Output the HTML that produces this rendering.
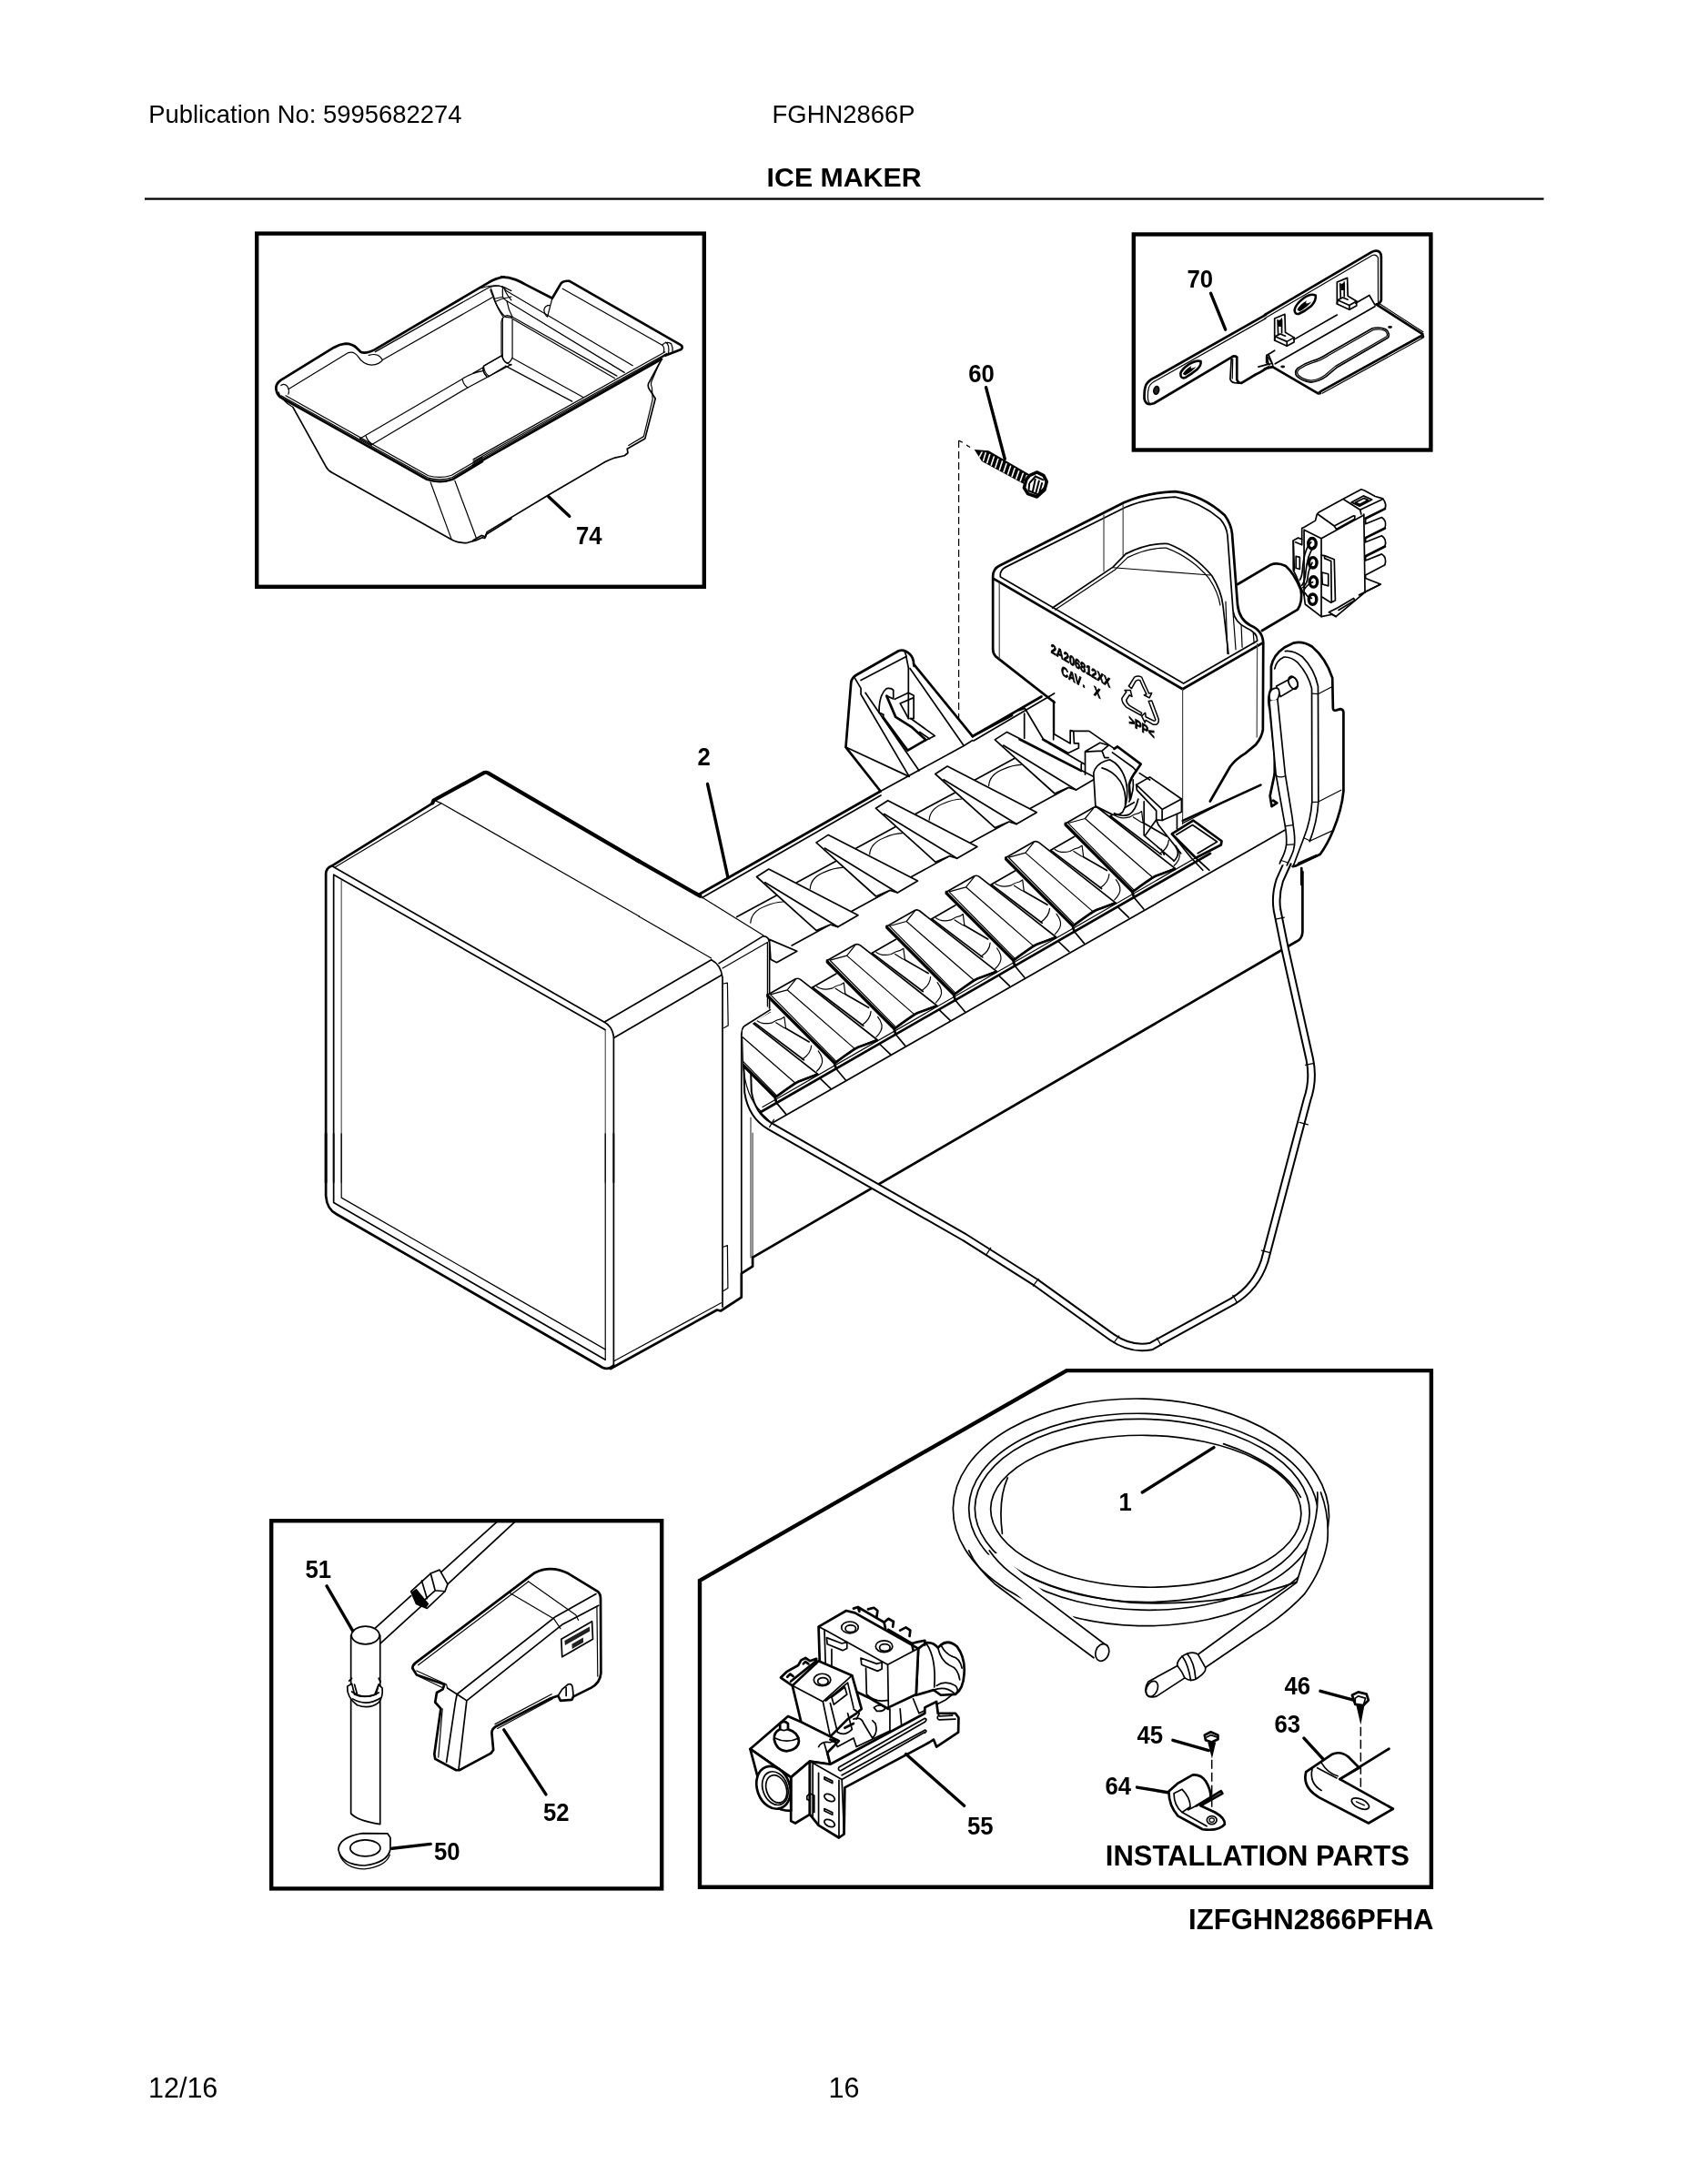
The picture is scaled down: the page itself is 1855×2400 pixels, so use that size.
<!DOCTYPE html>
<html><head><meta charset="utf-8"><title>ICE MAKER</title>
<style>
html,body{margin:0;padding:0;background:#fff;}
body{width:1855px;height:2400px;position:relative;overflow:hidden;font-family:"Liberation Sans",sans-serif;color:#000;}
svg{position:absolute;left:0;top:0;filter:grayscale(1);}
.t{font-family:"Liberation Sans",sans-serif;fill:#000;}
.b{font-weight:bold;}
path,line,ellipse,circle,polyline,polygon{vector-effect:non-scaling-stroke;}
.s{fill:none;stroke:#000;stroke-width:1.7;stroke-linejoin:round;stroke-linecap:round;}
.k{fill:none;stroke:#000;stroke-width:2.7;stroke-linejoin:round;stroke-linecap:round;}
.n{fill:none;stroke:#000;stroke-width:1.2;stroke-linejoin:round;stroke-linecap:round;}
.w{fill:#fff;}
.ld{fill:none;stroke:#000;stroke-width:3.4;stroke-linecap:round;}
</style></head><body>
<svg width="1855" height="2400" viewBox="0 0 1855 2400">
<!-- header/footer -->
<text class="t" x="163.2" y="134.5" font-size="27.4">Publication No: 5995682274</text>
<text class="t" x="848.6" y="134.5" font-size="27.4">FGHN2866P</text>
<text class="t b" x="927.6" y="204.7" font-size="30.3" text-anchor="middle">ICE MAKER</text>
<rect x="159" y="217.4" width="1537.5" height="2.3" fill="#000"/>
<text class="t" x="163" y="2305" font-size="30.5">12/16</text>
<text class="t" x="910.5" y="2305" font-size="30.5">16</text>
<!-- boxes -->
<rect x="282.2" y="256.6" width="491.6" height="388.2" fill="none" stroke="#000" stroke-width="4.4"/>
<rect x="1245.8" y="257.5" width="326.6" height="237" fill="none" stroke="#000" stroke-width="4.4"/>
<rect x="298.2" y="1671.2" width="429" height="404.2" fill="none" stroke="#000" stroke-width="4.4"/>
<path d="M769 1736.8 L1172.2 1506.1 L1572.9 1506.1 L1572.9 2073.7 L769 2073.7 Z" fill="none" stroke="#000" stroke-width="4.4" stroke-linejoin="miter"/>
<!-- BIN 74 : left half (zoom A) -->
<g transform="translate(290,290) scale(0.15995)">
<path class="k" d="M1650,90 Q1590,98 1540,130 L760,590 Q700,620 665,605 Q650,590 640,580 Q610,548 560,548 Q520,552 480,575 L115,800 Q80,825 84,860 Q88,895 112,915 L1120,1480 Q1210,1510 1300,1478 L1500,1357"/>
<path class="n" d="M118,905 L1125,1468 Q1210,1494 1295,1466 L1500,1343"/>
<path class="n" d="M150,905 L1130,1455 Q1210,1478 1290,1452 L1500,1329"/>
<path class="n" d="M100,880 Q112,930 200,985"/>
<path class="n" d="M170,860 L580,610 Q620,596 650,640 Q680,690 740,695 Q795,690 815,660 L1570,230"/>
<path class="n" d="M720,628 Q775,612 800,640 L815,660"/>
<path class="n" d="M765,604 L1545,162 Q1600,140 1650,160 L1700,185"/>
<path class="n" d="M118,835 Q140,818 160,840 Q178,865 168,895"/>
<path class="n" d="M1560,170 Q1580,220 1590,260 Q1620,330 1660,365 L1700,370"/>
<path class="n" d="M1590,260 Q1640,235 1700,225"/>
<path class="n" d="M1650,165 Q1660,200 1700,250"/>
<path class="n" d="M1640,370 L1640,640 Q1650,680 1700,695"/>
<path class="n" d="M1640,625 L1510,700 Q1500,740 1530,775"/>
<path class="n" d="M1700,690 L1400,850 L745,1240"/>
<path class="n" d="M660,1200 L1355,795 Q1430,745 1505,735"/>
<path class="n" d="M1365,795 Q1370,830 1400,850"/>
<path class="n" d="M1510,705 Q1515,750 1545,770"/>
<path class="n" d="M660,1200 L740,1245 M700,1180 Q710,1215 745,1240"/>
<path class="s" d="M200,985 L425,1390 Q440,1420 470,1435 L1290,1895 Q1340,1922 1400,1915 L1455,1900 L1500,1880 L1518,1885 L1525,1860 L1700,1750"/>
<path class="n" d="M1145,1500 L1290,1895 M1312,1490 L1458,1880"/>
</g>
<!-- BIN 74 : right half (zoom B) -->
<g transform="translate(520,290) scale(0.15110)">
<path class="k" d="M205,95 Q260,95 310,115 Q350,132 380,150 L575,250 L640,140 Q660,120 700,125 L1510,590 Q1530,605 1512,622 L1400,665"/>
<path class="n" d="M650,180 L1375,590 Q1400,560 1440,580 Q1455,610 1450,640"/>
<path class="n" d="M1400,570 Q1430,585 1420,655 M1375,590 Q1395,610 1385,640"/>
<path class="n" d="M575,250 L540,385 M560,300 Q520,300 515,335 Q520,370 540,385"/>
<path class="n" d="M60,175 Q130,150 190,160 Q225,170 240,195 L1160,740"/>
<path class="n" d="M215,165 Q212,200 215,240 L150,255 M215,240 Q235,265 245,270 L1100,790"/>
<path class="n" d="M125,190 Q140,225 150,255 Q180,330 215,380 M245,270 Q255,330 285,385"/>
<path class="n" d="M205,650 L205,420 Q212,380 248,375 Q280,378 285,400 L285,680 Q270,720 245,722 Q210,705 205,650"/>
<path class="n" d="M285,385 L1045,815 M290,402 L1030,832"/>
<path class="n" d="M285,685 L800,970 M235,742 L720,1000"/>
<path class="n" d="M205,670 L75,745 Q65,770 80,795 L100,822 M110,820 L235,745 M0,795 L70,755"/>
<path class="k" d="M0,1466 L1370,692"/>
<path class="n" d="M0,1450 L1400,665 M0,1436 L1410,650 M0,1422 L1395,640"/>
<path class="s" d="M1370,695 L1275,870 Q1268,890 1280,910 L1325,980 L1250,1270 L1120,1345 L1125,1375 L1100,1395 L1030,1410 Q990,1425 960,1440 L550,1680 L100,1950 L90,1985 L60,1975 L0,2010"/>
<path class="n" d="M1350,730 L1295,860 Q1290,885 1300,900 L1305,985 L1240,1255 L1130,1320"/>
<path class="ld" d="M548,1692 L700,1835"/>
</g>
<text class="t b" font-size="28.2" transform="translate(633,597.5) scale(0.912,1)">74</text>
<!-- BRACKET 70 : left (zoom C) -->
<g transform="translate(1250,270) scale(0.10071)">
<path class="k" d="M1400,753.5 L200,1432 Q120,1468 95,1515 Q72,1560 75,1670 Q85,1725 135,1730 L180,1720 L1030,1215 Q1055,1195 1085,1215 L1085,1460 Q1095,1500 1135,1498 L1290,1405 Q1340,1385 1390,1350 L1430,1325"/>
<path class="n" d="M1400,793 L215,1464 Q140,1498 125,1545 Q108,1600 115,1680 Q120,1715 140,1725"/>
<path class="s" d="M1025,1225 L1012,1455 Q1020,1490 1060,1495 L1110,1500"/>
<path class="n" d="M1040,1235 L1035,1450"/>
<ellipse cx="206" cy="1578" rx="28" ry="44" transform="rotate(12 206 1578)" fill="#222" stroke="#000" stroke-width="1.6"/>
<path d="M470,1395 Q480,1350 560,1295 Q640,1245 690,1262 Q700,1300 650,1350 Q590,1400 520,1440 Q470,1455 470,1395 Z" fill="#fff" stroke="#000" stroke-width="2.6"/><path d="M495,1400 Q520,1350 590,1310 Q560,1360 640,1320 Q600,1370 520,1415 Z" fill="#000"/>


<path class="s" d="M1320,1322 L1430,1292 L1410,1195 L1410,1260"/>
<path class="n" d="M1410,1195 L1470,1285 L1430,1295"/>
<path class="ld" d="M800,520 L960,915"/>
</g>
<text class="t b" x="0" y="0" font-size="28.2" transform="translate(1304.5,316.3) scale(0.912,1)">70</text>
<!-- BRACKET 70 : right (zoom D) -->
<g transform="translate(1390,260) scale(0.11256)">
<path class="k" d="M0,763 L1040,152 Q1085,128 1120,150 Q1138,170 1136,200 L1136,620 Q1125,655 1090,662"/>
<path class="n" d="M0,798 L1050,182 Q1085,168 1105,205 L1106,640"/>
<!-- slot -->
<path d="M290,715 Q300,660 380,600 Q450,550 495,575 Q505,620 450,680 Q390,730 330,755 Q290,760 290,715 Z" fill="#fff" stroke="#000" stroke-width="2.6"/><path d="M315,715 Q340,665 410,625 Q380,675 455,635 Q420,685 340,730 Z" fill="#000"/>


<!-- clip 1 -->
<g id="clip">
<path class="s w" d="M95,800 L195,758 L200,935 L285,985 L285,1030 L215,1068 L95,1012 Z"/>
<path class="s" d="M95,1012 L100,975 L215,1025 L215,1068 M215,1025 L285,985 M100,975 L150,950 L200,970"/>
<path class="s" d="M125,815 L130,960 M165,800 L165,940"/>
<path d="M130,820 L165,805 L170,880 L135,880 Z" fill="#000"/>
<ellipse cx="178" cy="800" rx="8" ry="14" fill="#fff"/>
</g>
<use href="#clip" x="610" y="-355"/>
<!-- flange -->
<path class="s" d="M285,1005 L705,765 M885,650 L1020,573 L1075,668 M100,1242 L1075,682 M30,1152 L95,1112"/>
<path class="s" d="M15,1165 L35,1150 L78,1255 M15,1165 L15,1230 L45,1252"/>
<!-- shelf -->
<path class="k" d="M75,1272 L520,1532 M545,1512 L1530,968 M1090,662 L1540,952"/>
<path class="n" d="M1120,655 L1545,930 M560,1530 L1540,990"/>
<path class="k" d="M0,1290 L75,1272"/>
<circle cx="1538" cy="975" r="20" fill="#111"/>
<circle cx="535" cy="1525" r="18" fill="#111"/>
<ellipse cx="175" cy="1270" rx="22" ry="13" fill="#111"/>
<ellipse cx="1222" cy="884" rx="22" ry="13" fill="#111"/>
<path class="s" d="M1050,895 Q1120,878 1180,905 Q1225,935 1205,985 L700,1280 Q650,1320 600,1365 Q530,1415 450,1422 Q360,1410 310,1360 Q285,1320 320,1285 Q380,1240 460,1215 Q540,1195 620,1140 Z"/>
<path class="n" d="M1055,912 Q1120,895 1170,918 Q1205,940 1190,975 L690,1265 Q640,1305 590,1350 Q525,1398 450,1405 Q370,1395 325,1350 Q305,1320 335,1295 Q390,1255 465,1232 Q550,1210 630,1155 Z"/>
</g>
<!-- ICE MAKER front cover (zoom F) -->
<g transform="translate(340,830) scale(0.21327)">
<path class="k" d="M85,2200 L85,610 Q87,580 115,570 L635,247"/>
<path class="k" style="stroke-width:4.2" d="M635,245 L640,232 L900,90 Q910,85 922,92 L1700,547"/>
<path class="s" d="M115,570 L1520,1375 Q1560,1395 1568,1450 L1568,2200"/>
<path class="s" d="M125,2200 L125,615 L1525,1415"/>
<path class="n" style="stroke:#555" d="M165,2200 L165,645 M1525,1415 L1525,2200"/>
<path class="n" d="M130,578 L680,247 M650,235 L680,247 L1700,830"/>
</g>
<!-- cover bottom (zoom G) -->
<g transform="translate(340,1250) scale(0.21327)">
<path class="k" d="M85,-20 L85,300 Q90,370 140,395 L1510,1185 Q1540,1200 1568,1175"/>
<path class="s" d="M125,-20 L125,335 L1525,1145"/>
<path class="n" d="M165,-20 L165,310 L1525,1092"/>
<path class="s" d="M1568,-20 L1568,1175"/>
<path class="n" d="M1525,-20 L1525,1145"/>
</g>
<!-- cover side + back plate (src coords) -->
<path class="s" d="M664.4,1123 L781.7,1054.8 Q792,1060 794,1074 L794,1436"/>
<path class="s" d="M674.6,1140.5 L793,1071.5"/>
<path class="n" d="M702,1007 L781.7,1053"/>
<path class="s" d="M790,1058.6 L838.7,1028.6 Q845,1029 845.6,1036 L845.6,1108"/>
<path class="n" d="M794,1064 L843.4,1035.5 L843.4,1106"/>
<path class="n" d="M794.8,1081 L799.4,1080.2 L800.2,1127 L795.6,1129.5 M794.8,1370.2 L799.4,1368.6 L799.9,1415.6 L794.8,1418.7"/>
<path class="n" d="M769.4,984.7 L838.7,1027.8"/>
<path class="s" d="M814.8,1136 L814.8,1399"/>
<path class="k" d="M671,1504 L787.9,1439.5 L792,1440.5 L814.8,1425.6 L814.8,1399.4 L827.1,1391.7 L827.1,1381.7"/>
<path class="n" d="M674.6,1495.7 L792.5,1431.8"/>
<path class="n" style="stroke:#444" d="M825,1228 L825,1382 M827.1,1245 L827.1,1382"/>
<path class="k" style="stroke-width:4.2" d="M700,945.2 L769.4,984.7"/>
<!-- TRAY BODY -->
<path class="s" d="M850.1,1233.3 L1432,900.7"/>
<path class="k" d="M827.4,1381.6 L1424.9,1034.5 Q1431,1032 1431.4,1024 L1431.4,958"/>
<path class="s" d="M814.9,1137 Q815.5,1129 818.1,1127.5 L846.4,1109.6"/>
<!-- wire -->
<path d="M821,1168 L822,1200 Q826,1226 846,1237.5 L1060,1359.7 L1138.2,1409.2 L1221.6,1469.2 Q1243,1484 1265,1479.5 L1276.3,1473.1 L1354.5,1430.1 Q1380,1415 1389.7,1385.8 L1436.5,1208.5 Q1444,1187 1439.3,1164 L1411.9,1041.7 L1403.5,1000 Q1401,984 1406.3,967.4 L1415.5,947" fill="none" stroke="#000" stroke-width="9.6" stroke-linejoin="round"/>
<path d="M821,1166 L822,1200 Q826,1226 846,1237.5 L1060,1359.7 L1138.2,1409.2 L1221.6,1469.2 Q1243,1484 1265,1479.5 L1276.3,1473.1 L1354.5,1430.1 Q1380,1415 1389.7,1385.8 L1436.5,1208.5 Q1444,1187 1439.3,1164 L1411.9,1041.7 L1403.5,1000 Q1401,984 1406.3,967.4 L1416,945.5" fill="none" stroke="#fff" stroke-width="5.6" stroke-linejoin="round"/>
<path class="n" d="M1088.7,1371.3 L1083.5,1379.3 M1141,1405.3 L1135.4,1413.1 M1229.7,1468 L1223.9,1475.6 M1271.3,1470.2 L1276.1,1478.6 M1354.8,1423.4 L1359.6,1431.6 M1386.3,1374.2 L1395.7,1376.6 M1428,1233.4 L1437.4,1235.8 M1434.6,1170.4 L1444,1168.4 M1402,1010.1 L1411.4,1008.1 M850.4,1230.2 L845.6,1238.6"/>
<!-- TRAY: fins and paddles -->
<defs>
<g id="fin">
<path class="s" d="M21.8,20.4 L-21.8,44"/>
<path class="n" d="M-6.7,50.7 Q-6,38 10.2,32 Q19,28 28.9,27.5"/>
<path class="s" d="M38.7,75.5 L79.5,53.3"/>
<path class="s w" d="M0,0 L13.3,-8.5 L111.5,42.2 L89.3,55.1 L81,52.5 L65.7,59.1 Z"/>
<path class="s" d="M9.3,6.2 L89.3,55.1"/>
</g>
<g id="pad">
<path class="s" d="M48.9,-7.9 L75.5,-23.2"/>
<path class="s" d="M49.8,-7.9 L105.3,34"/>
<path class="n" d="M53.9,-9.1 Q60,-4.5 70.5,-7 Q76,-10.5 80.5,-11.2 L83.8,-13.3 L85.4,-0.8 L82.9,-1.7 L74.6,-7"/>
<path class="s" d="M85.4,-0.8 L111.1,14.1"/>
<path class="n" d="M113.6,18.2 Q113,27 103.7,33.2"/>
<path class="n" d="M121.1,24.1 Q128,33 124.4,39.8 Q122.5,43.5 119.4,46.4"/>
<path class="s w" d="M0,0 L30.7,-17.4 Q33.6,-18.8 36.5,-16.6 L120.3,49.3 L99.5,57.6 Q95,59.5 74.6,74.6 Z"/>
<path class="n" d="M3.3,-0.4 L21.6,-5.4 L30.7,-16.6 M21.6,-5.4 L95.4,58.9"/>
<path class="k" d="M0,0 L0,1.7 L73.4,75.1 L75.4,81.3"/>
<path class="s" d="M75.4,81.3 L86.1,94.1 M57.8,92 L69.5,103.2"/>
<path class="n" d="M3.3,0 L75.4,73.2"/>
<path class="k" d="M74.6,74.6 Q95,59.5 99.5,57.6 L120.3,50"/>
</g>
</defs>
<use href="#fin" x="831.5" y="963.5"/>
<use href="#fin" x="897.0" y="925.9"/>
<use href="#fin" x="962.4" y="888.2"/>
<use href="#fin" x="1027.8" y="850.5"/>
<use href="#fin" x="1093.3" y="812.9"/>
<clipPath id="clipL"><path d="M816,1132 L846.4,1112 L1000,1112 L1000,1300 L816,1300 Z"/></clipPath>
<g clip-path="url(#clipL)"><use href="#pad" x="778.1" y="1130.8"/></g>
<path class="s w" d="M845.5,1032.4 L875.8,1045.3 L853.5,1057.7 L846.9,1054.2 Z"/>
<path class="n" d="M815.6,1140 L816.5,1168 Q819,1206 837,1222"/>
<use href="#pad" x="843.5" y="1093.2"/>
<use href="#pad" x="909.0" y="1055.5"/>
<use href="#pad" x="974.5" y="1017.9"/>
<use href="#pad" x="1039.9" y="980.2"/>
<use href="#pad" x="1105.3" y="942.5"/>
<use href="#pad" x="1170.8" y="904.9"/>
<!-- rail along paddles bottoms -->
<path class="k" d="M836,1222 L1330,937.8"/>
<path class="n" d="M838,1216.5 L1326,935.8"/>
<!-- mounting ear (zoom S) -->
<g transform="translate(820,690) scale(0.16588)">
<path class="k" d="M890,1082 L660,790 L695,360 Q700,330 730,312 L1010,152 Q1050,140 1085,175 Q1110,200 1110,240 L1500,718"/>
<path class="s" d="M890,1082 L1440,782 L1500,745"/>
<path class="s" d="M715,325 L760,400 L760,440 L1080,985 M760,347 L1060,190 L1075,265 L1075,600 M1050,155 L1062,190"/>
<path class="s" d="M790,430 L1145,945 M660,790 L1080,985"/>
<path class="s" d="M1085,268 L1440,778 M1110,245 L1110,255"/>
<path class="k" d="M905,590 L1070,812 L1190,742 L1100,660 L990,590 L930,450"/>
<path class="s" d="M880,560 Q880,440 930,402 Q960,395 975,412 L975,470 L930,450 M880,560 L910,575 L905,595"/>
<path class="s" d="M985,472 L1075,430 L1110,447 L1110,600 L1085,600 M1020,500 L1110,462 M1020,500 L1075,600"/>
<path class="s" d="M1090,600 L1250,715 L1190,745 M1150,690 L1215,735"/>
</g>
<!-- tray back edge thick -->
<path class="k" d="M767,983.5 L967.6,869.5 M1068.8,809.1 L1112,786"/>
<path class="s" d="M771.5,986.5 L968,874"/>
<!-- dashed line from screw -->
<path d="M1053.6,484 L1053.6,790" fill="none" stroke="#000" stroke-width="1.2" stroke-dasharray="8 4"/>

<!-- motor cylinder + connector (zoom V) -->
<g transform="translate(1330,520) scale(0.11848)">
<path class="w" stroke="none" d="M255,1030 L560,850 Q620,825 700,860 Q780,930 840,1080 Q860,1190 810,1265 L480,1460 Z"/><path class="k" d="M255,1030 L560,850 Q620,825 700,860 Q780,930 840,1080 Q860,1190 810,1265 L480,1460"/>
<!-- connector -->
<path class="s w" d="M770,625 L815,600 L850,612 L850,510 L880,495 L975,440 L990,380 L1010,360 L1230,240 L1400,150 L1430,160 L1530,215 L1600,235 Q1640,290 1620,330 L1440,420 L1440,470 L1590,410 Q1640,440 1620,510 L1440,600 L1440,640 L1590,580 Q1640,610 1620,680 L1440,770 L1440,810 L1590,750 Q1640,780 1620,850 L1440,945 L1440,975 L1580,1030 L1440,1100 L1165,1330 L1130,1310 L1030,1330 L880,1215 L870,1130 L800,960 L770,900 Z"/>
<path class="s" d="M870,525 L1030,605 L1030,1330 M1030,605 L1420,390 M1425,380 L1435,1105 M870,525 L870,1130"/>
<path class="s" d="M1000,382 L1150,490 L1170,520 L1340,425 L1340,395 M1150,490 L1330,395 M1240,245 L1390,340 L1400,380 M1390,340 L1600,240 M1310,270 L1420,210 L1500,245 L1385,305 Z M1345,272 L1425,232 L1465,250 L1388,290 Z"/>
<path class="s" d="M1030,760 L1060,765 L1150,800 L1160,1180 L1120,1200 L1040,1150 M1060,765 L1060,790 L1120,815 L1125,1195 M1035,920 L1095,935 L1095,1045 L1040,1030 Z"/>
<path class="s" d="M770,625 L780,900 M790,640 L850,665 L850,612 M795,770 L830,780 L830,890 L795,880 Z"/>
<g fill="none" stroke="#000" stroke-width="3.4">
<ellipse cx="945" cy="652" rx="36" ry="48"/><ellipse cx="952" cy="830" rx="36" ry="48"/><ellipse cx="957" cy="1008" rx="36" ry="48"/><ellipse cx="950" cy="1170" rx="36" ry="48"/>
</g>
<path class="s" d="M935,640 Q870,700 855,900 Q850,960 830,990 M960,680 Q900,760 885,920 Q880,1000 850,1040 M945,830 Q910,900 905,960 Q900,1020 860,1060 M950,1010 Q900,1030 870,1080 M940,1160 Q900,1150 880,1110"/>
<path class="k" d="M1440,420 L1620,330 M1440,600 L1620,510 M1440,770 L1620,680"/>
<path class="s" d="M1165,1330 L1100,1290 L1180,1250 M1180,1250 L1330,1160 L1340,1180 L1190,1270 M1380,1130 L1560,1040 L1580,1030"/>
</g>
<!-- FILL CUP (zoom T) -->
<g transform="translate(1070,520) scale(0.20142)">
<!-- silhouette fill to hide things behind -->
<path class="w" d="M105,560 Q108,520 140,505 L820,160 Q950,105 1100,100 Q1250,120 1370,230 Q1405,280 1410,330 L1440,720 Q1450,800 1510,830 Q1580,860 1580,930 L1578,1400 Q1560,1470 1480,1530 L1400,1600 L1145,1980 L1140,1680 L440,1420 L440,1250 L120,1000 L105,960 Z" stroke="none"/>
<path class="k" d="M440,1250 L120,1000 Q105,985 105,960 L105,560 Q108,520 140,505 L820,160 Q950,105 1100,100 Q1250,120 1370,230 Q1405,280 1410,330 L1440,720 Q1450,800 1510,830 Q1580,860 1580,930 L1578,1400 Q1572,1440 1540,1480 L1480,1530 Q1430,1560 1400,1600 L1290,1790"/>
<path class="k" d="M108,575 L1140,1178 L1578,925"/>
<path class="s" d="M146,566 Q140,530 175,512 L825,187 Q950,135 1100,130 Q1240,160 1345,250 Q1380,290 1385,340 L1415,750 Q1425,815 1490,845 Q1550,870 1547,915 L1145,1147 Z"/>
<path class="n" style="stroke:#444" d="M1140,1178 L1140,1915 M140,600 L140,1012 M1547,930 L1545,1440"/>
<path class="n" d="M440,1250 L440,1420"/>
<path class="n" style="stroke:#444" d="M710,228 L710,535 M815,172 L815,452"/>
<path class="s" d="M430,735 L760,512 L830,440 Q950,380 1060,385 Q1200,440 1300,560 Q1350,640 1360,720 L1390,985"/>
<path class="n" d="M445,745 L770,528 L840,460 Q950,405 1050,408 Q1190,460 1285,575 Q1335,650 1345,720"/>
<path class="n" d="M760,515 L1290,556"/>
<path class="n" d="M1375,700 L1385,985 M1415,760 L1430,962 M1460,832 L1465,950 M1525,868 L1530,928"/>
<path class="k" d="M1141,1896 L1566,1701"/>
</g>
<path class="k" d="M1068.8,809.1 L1144.5,765.5"/>
<path class="s" d="M1070,814 L1158.6,762"/>
<!-- cup markings (zoom AE) -->
<g transform="translate(1140,690) scale(0.088865)" fill="#fff" stroke="#000" stroke-width="1.5" stroke-linejoin="round">
<path d="M1130,720 L1200,610 Q1245,585 1290,610 L1330,700 L1380,810 L1415,805 L1385,865 L1320,830 L1350,820 L1300,720 L1270,650 Q1240,635 1215,660 L1165,750 Z"/>
<path d="M1280,1080 L1100,980 Q1040,920 1045,870 L1100,790 L1080,770 L1150,770 L1170,850 L1140,830 L1100,890 Q1100,930 1140,960 L1290,1050 Z"/>
<path d="M1375,905 L1415,900 L1500,1130 Q1505,1180 1470,1195 L1430,1195 L1340,1140 L1330,1170 L1290,1090 L1335,1050 L1340,1100 L1440,1150 Q1465,1150 1460,1130 Z"/>
</g>
<g style="font-family:'Liberation Sans',sans-serif;font-weight:bold;font-size:14.3px;stroke:#000;stroke-width:0.9px" fill="#000">
<text transform="matrix(0.77,0.457,0,1,1154.7,716.9)">2A206812XX</text>
<text transform="matrix(0.75,0.445,0,1,1166.2,741.3)">CAV</text>
<text transform="matrix(0.77,0.457,0,1,1189.5,754.2)">.</text>
<text transform="matrix(0.77,0.457,0,1,1202,763.4)">X</text>
<text transform="matrix(0.79,0.468,0,1,1240.4,795.5)">&gt;PP&lt;</text>
</g>
<!-- mechanism under cup (zoom U) -->
<g transform="translate(1120,770) scale(0.14218)">
<path class="s" d="M0,75 L45,60 L185,295 L380,405 L460,365 L460,330 L425,330 L420,235 L395,230 L395,330 L265,255 M265,0 L265,300 M40,100 L40,290 M180,300 L505,490 M0,300 L480,545 L480,490 M395,235 L540,235 L735,370"/>
<path class="s" d="M510,570 L510,392 L625,325 L690,345 L640,388 L510,395 M640,388 L660,440 L690,440"/>
<path class="s w" d="M575,560 Q590,495 660,468 L700,455 L740,480 Q830,560 835,700 Q835,800 800,860 Q770,890 720,880 L590,815 Z"/>
<path class="s" d="M640,520 Q720,540 780,620 Q830,700 820,800 M735,870 Q790,900 850,880 Q900,850 920,760"/>
<path class="k" d="M735,372 L760,355 L940,490 L905,542 Q860,600 850,650 L858,760"/>
<path class="s" d="M720,400 L880,515 L905,542 M880,610 Q890,700 850,780"/>
<path class="s w" d="M905,650 L1010,590 L1255,760 L1255,860 L1105,925 L1060,920 L1060,850 L910,690 Z"/>
<path class="s" d="M1255,760 L1105,840 L1105,925 M1105,840 L905,650 M930,560 L1010,612"/>
<path class="s" d="M965,780 L965,1040 L1190,1232 M1060,920 L975,1040 M1060,920 Q1070,960 1100,990 L1250,1180 M1220,880 L1220,990 M1100,1150 L1120,1190 M1210,1130 Q1250,1190 1195,1240"/>
<!-- small paddle k=5 -->
<path class="k" d="M1180,1030 L1345,925 L1565,1085 L1560,1115 L1365,1215 Z" style="fill:#fff"/>
<path class="s" d="M1215,1035 L1340,960 L1530,1090 L1380,1180 M1180,1030 L1330,1215 L1420,1310 M1365,1215 L1470,1310"/>
</g>
<!-- wire clip housing (zoom W) -->
<g transform="translate(1370,690) scale(0.12821)">
<path class="w" stroke="none" d="M210,520 L210,330 Q230,230 320,170 L400,130 Q480,110 560,160 Q680,260 735,430 L740,690 L760,710 L810,695 L830,720 L830,1400 Q815,1560 740,1740 Q690,1860 630,1940 L420,2040 L400,2045 L330,1700 L240,1250 L240,1100 L200,700 L180,580 Z"/>
<path class="k" d="M240,1250 L240,1100 L200,700 Q175,600 210,520 L210,330 Q230,230 320,170 L400,130 Q480,110 560,160 Q680,260 735,430 L740,690 Q745,715 770,705 L805,695 Q830,700 830,725 L830,1400 Q815,1560 740,1740 Q690,1860 630,1940 L420,2040 L395,2045"/>
<path class="s" d="M240,350 Q255,280 320,250 Q380,245 440,300 Q530,400 558,520 L560,1490 Q550,1650 490,1800 L400,2040"/>
<path class="s" d="M330,200 Q400,190 480,250 Q580,350 612,500 L615,1490 Q605,1660 540,1830"/>
<path class="n" d="M560,562 L615,566 L730,505 M560,1495 L615,1490 L810,1390 M490,1800 L545,1825 L730,1740 M420,2040 L600,1960 L630,1940 M440,2015 L600,1945"/>
<!-- pin -->
<path class="s w" d="M255,500 L365,440 Q400,400 430,450 Q450,500 420,512 L290,590 Z"/>
<ellipse class="s" cx="398" cy="470" rx="36" ry="58" transform="rotate(-25 398 470)"/>
<path class="s w" d="M200,622 Q185,560 215,530 Q245,505 272,522 Q290,560 265,612 Q235,640 200,622 Z"/>
<!-- wire -->
<path class="w" stroke="none" d="M195,630 L250,1250 L330,1700 L340,1860 L290,2000 L280,2030 L350,2030 L380,1960 L410,1860 L400,1700 L330,1250 L265,615 Z"/>
<path class="s" d="M195,630 L250,1250 L330,1700 Q345,1790 340,1860 Q330,1930 290,2000 L283,2020 M265,615 L330,1250 L390,1620 L400,1700 Q415,1790 410,1860 Q405,1910 380,1960 L345,2035"/>
<path class="n" d="M250,1265 Q290,1290 330,1270 M330,1700 L395,1690 M340,1860 L408,1855 M300,1995 L348,2010"/>
<path class="k" d="M240,1250 L200,1440 L215,1530 L260,1500 L228,1480"/>
<!-- cup side fragments -->
<path class="k" d="M470,2060 L470,2200"/>
</g>
<!-- tray right-end top surface -->
<path class="n" d="M1299.7,904.6 L1340.6,883.8"/>

<!-- screw 60 (zoom X) -->
<g transform="translate(1040,390) scale(0.082939)">
<path d="M370,1255 L560,1268 L1110,1590 L1050,1725 L470,1410 Z" fill="#000"/>
<g stroke="#fff" stroke-width="1.6" fill="none" stroke-linecap="round">
<path d="M470,1290 L440,1350 M520,1300 L490,1400 M575,1320 L540,1430 M630,1350 L595,1460 M685,1380 L650,1490 M740,1410 L705,1520 M795,1445 L760,1550 M850,1475 L815,1580 M905,1505 L870,1610 M960,1540 L925,1640 M1015,1570 L980,1670 M1065,1600 L1035,1695"/>
</g>
<path d="M1100,1600 L1200,1555 L1290,1600 L1330,1680 L1300,1790 L1200,1880 L1080,1840 L1030,1760 L1060,1650 Z" fill="#fff" stroke="#000" stroke-width="3.6" stroke-linejoin="round"/>
<path d="M1100,1700 L1180,1610 L1290,1660 M1100,1700 L1090,1800 L1210,1850 L1300,1760 M1180,1640 L1140,1830 M1230,1660 L1180,1850 M1270,1690 L1230,1830" fill="none" stroke="#000" stroke-width="2"/>
<path class="ld" d="M525,430 L775,1380"/>
<path d="M165,1135 L215,1160 M265,1195 L315,1225" fill="none" stroke="#000" stroke-width="1.2"/>
</g>
<text class="t b" font-size="28.2" transform="translate(1064.3,420.3) scale(0.912,1)">60</text>
<text class="t b" font-size="28.2" transform="translate(766.5,840.8) scale(0.912,1)">2</text>
<path class="ld" d="M777.5,861.4 L800,964.5"/>
<!-- BOX 3: tube 51, washer 50 (zoom Y) -->
<g transform="translate(300,1670) scale(0.19689)">
<path class="s" d="M565,610 L770,425 M600,690 L830,480 M930,300 L1250,12 M975,360 L1350,12"/>
<path class="s w" d="M770,400 L880,300 L930,280 L975,360 L960,400 L860,495 L800,470 Z"/>
<path class="s" d="M880,300 L905,395 L960,400 M905,395 L815,475 M830,340 L860,440"/>
<path d="M772,405 L800,385 L870,470 L855,492 L800,468 Z" fill="#000"/>
<path class="s w" d="M435,645 L435,1640 Q470,1680 598,1700 L598,645 Z"/>
<ellipse class="s w" cx="516" cy="645" rx="78" ry="50"/>
<path class="s w" d="M415,930 Q410,990 470,1035 Q540,1060 590,1020 Q615,990 610,940 L590,920 L575,975 Q510,1000 455,975 L440,915 Z"/>
<path class="s" d="M440,960 Q510,1010 590,965 M445,1000 Q520,1045 600,995 M455,920 L470,975 M590,920 L570,970 M425,900 L440,885 M600,905 L590,885"/>
<path class="s w" d="M365,1840 Q370,1770 500,1750 L640,1752 L655,1775 L655,1840 Q640,1915 510,1930 Q380,1925 365,1840 Z"/>
<ellipse class="s" cx="515" cy="1833" rx="84" ry="46"/>
<path class="n" d="M372,1870 Q400,1945 510,1950 Q630,1935 652,1870"/>
<path class="ld" d="M300,370 L445,620"/>
<path class="ld" d="M665,1835 L880,1810"/>
</g>
<text class="t b" font-size="28.2" transform="translate(335.5,1734) scale(0.912,1)">51</text>
<text class="t b" font-size="28.2" transform="translate(477,2044) scale(0.912,1)">50</text>
<!-- part 52 (zoom Z) -->
<g transform="translate(440,1700) scale(0.17773)">
<path class="k w" d="M75,750 Q75,730 95,715 L830,160 Q930,110 1040,165 L1220,275 Q1238,290 1238,320 L1240,780 Q1235,840 1180,870 L1070,925 L1060,945 L990,950 L975,920 L930,935 L590,1110 Q565,1125 565,1150 L575,1255 L560,1275 L365,1380 L345,1380 L215,1310 L210,1280 L250,1000 L215,960 L225,900 L262,880 L272,850 L100,790 Z"/>
<path class="n" d="M110,730 L790,215 M100,765 L285,850 L290,872 M115,800 L265,872"/>
<path class="s" d="M350,910 L960,430 L1210,290 M350,910 L410,950 L1000,480 L1225,362 M350,910 L340,960 L285,1330 M410,950 L360,1378 M290,872 L350,910"/>
<path class="n" d="M670,280 L950,445 L990,505 M790,212 L1085,420 L1100,452 M260,1000 L235,1300 M1215,370 L1220,800"/>
<path class="s" d="M995,570 L1185,460 L1190,570 L1000,680 Z"/>
<path d="M1015,580 L1170,492 L1172,520 L1018,608 Z M1060,600 L1130,560 L1132,590 L1062,630 Z" fill="#222"/>
<path class="s" d="M975,920 L1000,880 L1035,850 Q1060,840 1065,870 L1070,925 M1025,870 L1025,920"/>
<path class="n" d="M585,1095 L935,910 M600,1122 L940,940"/>
<path class="ld" d="M640,1130 L900,1530"/>
</g>
<text class="t b" font-size="28.2" transform="translate(597,2001.3) scale(0.912,1)">52</text>
<!-- VALVE 55 (zoom AA) -->
<g transform="translate(810,1750) scale(0.15995)">
<!-- elbow + rear cylinder -->
<path class="k w" d="M1245,385 L1300,345 Q1350,340 1380,380 L1400,360 Q1450,320 1510,370 Q1570,450 1560,560 Q1555,660 1500,700 L1400,705 L1350,670 L1230,705 Z"/>
<path class="s" d="M1300,350 Q1370,450 1355,650 M1400,360 Q1430,420 1480,440 Q1530,450 1545,520 M1380,380 Q1400,470 1460,500 Q1520,520 1530,600 M1370,640 Q1430,600 1500,640 Q1530,670 1500,700 M1350,670 Q1430,640 1490,690"/>
<!-- large solenoid block -->
<path class="k w" d="M560,235 L750,125 L810,140 L1245,385 L1230,700 L1040,790 L1040,800 L900,720 L650,600 L570,560 Z"/>
<path class="s" d="M560,235 L600,255 L1035,495 L1245,385 M1035,495 L1040,790 M600,255 L610,560 M650,390 L650,600 M885,520 L890,700 Q950,760 1035,740"/>
<g class="s"><ellipse cx="775" cy="240" rx="58" ry="40"/><ellipse cx="780" cy="248" rx="36" ry="24"/><ellipse cx="1010" cy="370" rx="58" ry="40"/><ellipse cx="1015" cy="378" rx="36" ry="24"/></g>
<path class="s w" d="M615,310 L720,350 L755,340 L755,385 L725,398 L620,355 Z M850,450 L960,490 L995,480 L995,525 L965,540 L855,495 Z"/>
<path class="k" d="M800,110 L830,100 L1010,205 L1020,250 M830,100 L840,130 M900,115 L940,105 L965,125 L960,165 M1010,205 L1040,180 L1075,200 L1070,235 M1040,255 L1200,350 L1240,340 L1290,330 L1290,360 M1120,260 L1160,240 L1190,260 L1185,300 M1200,350 L1210,395"/>
<!-- front solenoid -->
<path class="k w" d="M380,640 L560,470 L790,570 L855,800 L820,830 L760,870 L640,990 L440,890 Z"/>
<path class="s" d="M380,640 L590,750 L790,570 M590,750 L640,990 M610,745 L760,620 L800,790 M650,720 L740,650 L755,700 L665,770 Z M640,760 L690,960 Q740,990 790,940 L760,830"/>
<g class="s"><ellipse cx="585" cy="600" rx="58" ry="42"/><ellipse cx="590" cy="610" rx="36" ry="25"/></g>
<path class="k" d="M300,585 L340,545 L420,500 L440,465 L470,450 L500,470 L545,455 L540,490 M300,585 L350,620 L380,640 M345,580 L365,560 L385,575 M455,490 L470,475 L490,490 M370,610 L545,470"/>
<!-- base -->
<path class="k w" d="M90,1075 L350,850 L440,890 L640,990 L700,1020 L620,1100 L640,1180 L500,1160 L370,1270 Z"/>
<path class="k w" d="M370,1270 L370,1570 L400,1585 L500,1525 L500,1160 Z"/>
<path class="k w" d="M90,1075 L370,1270 L370,1500 Q330,1500 300,1490 L150,1300 Z"/>
<g class="k w"><ellipse cx="250" cy="1340" rx="112" ry="150" transform="rotate(-20 250 1340)"/></g>
<g class="s"><ellipse cx="262" cy="1345" rx="85" ry="118" transform="rotate(-20 262 1345)"/><ellipse cx="270" cy="1350" rx="68" ry="98" transform="rotate(-20 270 1350)"/></g>
<path class="k w" d="M255,1010 Q250,960 295,940 L295,900 Q320,875 350,900 L350,940 Q420,960 425,1020 Q420,1080 340,1090 Q270,1085 255,1010 Z"/>
<path class="s" d="M260,1000 Q340,1040 425,1000 M295,940 Q320,955 350,940"/>
<!-- fittings center -->
<path class="s" d="M560,1060 Q580,1020 640,1030 L690,1010 M600,1040 L640,1180 M660,1000 L690,1060 L800,1000 L820,1060 M800,870 Q850,850 870,900 L930,1000 Q970,960 950,900 L930,880 M820,1060 L1050,950 L1050,800 M1060,960 L1130,920 L1120,800 M940,790 Q980,760 1020,790 Q1010,820 960,815 Z M1210,730 L1250,830 L1430,740 L1480,700 M800,800 L840,830 L820,870"/>
<path class="k" d="M740,930 L800,900 M640,1010 L680,1030"/>
<!-- bracket -->
<path class="k w" d="M500,1160 L640,1180 L1290,830 L1290,790 L1370,750 L1380,830 L1500,830 L1522,860 L1520,960 L1370,1060 L1350,1010 L1320,1030 L740,1340 L735,1660 L700,1685 L560,1600 L500,1525 Z"/>
<path class="s" d="M500,1160 L720,1285 L735,1660 M720,1285 L1290,960 M700,1290 L700,1680 M560,1240 L560,1600 M520,1180 L520,1540"/>
<path class="s" d="M700,1200 L1290,865 Q1310,870 1290,890 L710,1225 Q690,1220 700,1200 Z M720,1255 L1290,945 Q1310,950 1290,965"/>
<path class="s" d="M1380,850 Q1370,870 1390,875 L1500,870 M1380,830 L1390,850 L1480,845"/>
<g class="s"><path d="M600,1268 L655,1295 L655,1310 L600,1283 Z"/><ellipse cx="635" cy="1410" rx="38" ry="22" transform="rotate(25 635 1410)"/><path d="M600,1485 L655,1512 L655,1527 L600,1500 Z"/><ellipse cx="635" cy="1585" rx="38" ry="22" transform="rotate(25 635 1585)"/></g>
<path class="s" d="M480,1400 L500,1380 L530,1395 L530,1510 M480,1400 L480,1420 L500,1430"/>
<path class="ld" d="M1160,1110 L1560,1465"/>
</g>
<text class="t b" font-size="28.2" transform="translate(1063,2016.3) scale(0.912,1)">55</text>
<!-- BOX 4: coil (zoom AB) -->
<g transform="translate(1030,1520) scale(0.26659)">
<g class="s">
<ellipse cx="840" cy="532" rx="775" ry="468" transform="rotate(1.5 840 532)"/>
<ellipse cx="850" cy="530" rx="720" ry="405" transform="rotate(1.5 850 530)"/>
<ellipse cx="845" cy="525" rx="690" ry="377" transform="rotate(1 845 525)"/>
<ellipse cx="860" cy="528" rx="640" ry="313" transform="rotate(1 860 528)"/>
</g>
<path class="s" d="M290,390 Q250,480 268,620 M1180,250 Q1420,330 1498,470 M240,700 Q400,860 800,905 Q1200,920 1480,820"/>
<!-- tail 1 -->
<path class="w" stroke="none" d="M150,720 L640,1135 L705,1085 L250,700 Z"/>
<path class="s" d="M130,690 Q160,760 240,830 L645,1132 M215,690 Q250,740 300,780 L700,1083"/>
<ellipse class="s w" cx="680" cy="1110" rx="27" ry="36" transform="rotate(20 680 1110)"/>
<!-- tail 2 -->
<path class="w" stroke="none" d="M1581,450 Q1618,548 1608,655 Q1591,763 1513,870 Q1425,963 1303,1037 L1100,1170 L1070,1115 L1481,822 Q1513,724 1540,631 Q1572,538 1567,450 Z"/>
<path class="s" d="M1581,450 Q1618,548 1608,655 Q1591,763 1513,870 Q1425,963 1303,1037 L1105,1172 M1567,450 Q1572,538 1540,631 Q1513,724 1481,822 L1075,1118"/>
<path class="s w" d="M1075,1118 Q1050,1100 1010,1125 Q985,1150 990,1165 L870,1230 Q850,1260 865,1285 Q880,1300 905,1290 L1020,1215 Q1050,1235 1080,1210 Q1110,1190 1105,1172 Z"/>
<path class="s" d="M1010,1125 Q1035,1160 1045,1225 M1030,1115 Q1060,1150 1065,1218 M990,1165 Q1010,1190 1020,1215"/>
<ellipse class="s" cx="885" cy="1260" rx="22" ry="34" transform="rotate(25 885 1260)"/>
<path class="ld" d="M845,450 L1140,265"/>
</g>
<text class="t b" font-size="28.2" transform="translate(1229.5,1660) scale(0.912,1)">1</text>
<!-- clamps & screws (zoom AC) -->
<g transform="translate(1200,1820) scale(0.22512)">
<path class="ld" d="M1115,170 L1280,215 M1035,400 L1140,515 M395,410 L570,460 M220,640 L370,665"/>
<path class="k w" d="M1270,190 L1300,175 L1340,185 L1350,215 L1325,240 L1285,235 Z"/>
<path class="s" d="M1285,205 L1300,195 L1335,205 L1325,240 M1285,205 L1285,235"/>
<path d="M1290,240 L1330,240 L1312,335 Z" fill="#000"/>
<path d="M1312,345 L1312,700 M585,505 L585,760" fill="none" stroke="#000" stroke-width="1.5" stroke-dasharray="10 4"/>
<path class="k w" d="M550,385 L580,370 L615,385 L615,405 L585,420 L555,410 Z"/>
<path class="s" d="M560,395 L580,385 L610,395"/>
<path d="M565,420 L605,420 L586,500 Z" fill="#000"/>
<!-- clamp 63 -->
<path class="k w" d="M1045,565 Q1025,640 1110,690 L1350,815 L1470,745 L1210,600 L1305,545 L1250,490 Q1210,460 1170,480 Z"/>
<path class="k" d="M1210,600 L1450,452"/>
<path class="s" d="M1075,550 Q1060,620 1120,655 M1100,545 L1195,595 M1120,520 Q1150,570 1200,585"/>
<ellipse class="s" cx="1310" cy="720" rx="46" ry="22" transform="rotate(25 1310 720)"/>
<path class="n" d="M1290,710 L1330,728"/>
<!-- clamp 64 -->
<path class="k w" d="M375,660 L420,620 L490,580 Q530,575 555,610 Q580,650 580,690 L510,730 L630,658 L637,670 L530,730 L600,762 Q650,790 648,820 Q620,855 540,845 L420,780 Q375,730 375,660 Z"/>
<path class="s" d="M400,670 Q400,730 440,762 L480,735 Q480,690 440,650 Z M440,762 L560,830 M510,730 L470,750"/>
<ellipse class="s" cx="585" cy="800" rx="24" ry="20"/><ellipse class="n" cx="585" cy="800" rx="12" ry="10"/>
</g>
<text class="t b" font-size="28.2" transform="translate(1411.5,1861.6) scale(0.912,1)">46</text>
<text class="t b" font-size="28.2" transform="translate(1400.5,1904.4) scale(0.912,1)">63</text>
<text class="t b" font-size="28.2" transform="translate(1249.5,1915.7) scale(0.912,1)">45</text>
<text class="t b" font-size="28.2" transform="translate(1214.5,1972) scale(0.912,1)">64</text>
<text class="t b" font-size="31" x="1214.8" y="2049.8" id="instparts">INSTALLATION PARTS</text>
<text class="t b" font-size="31.1" x="1306" y="2119.7" id="izf">IZFGHN2866PFHA</text>
</svg>
</body></html>
